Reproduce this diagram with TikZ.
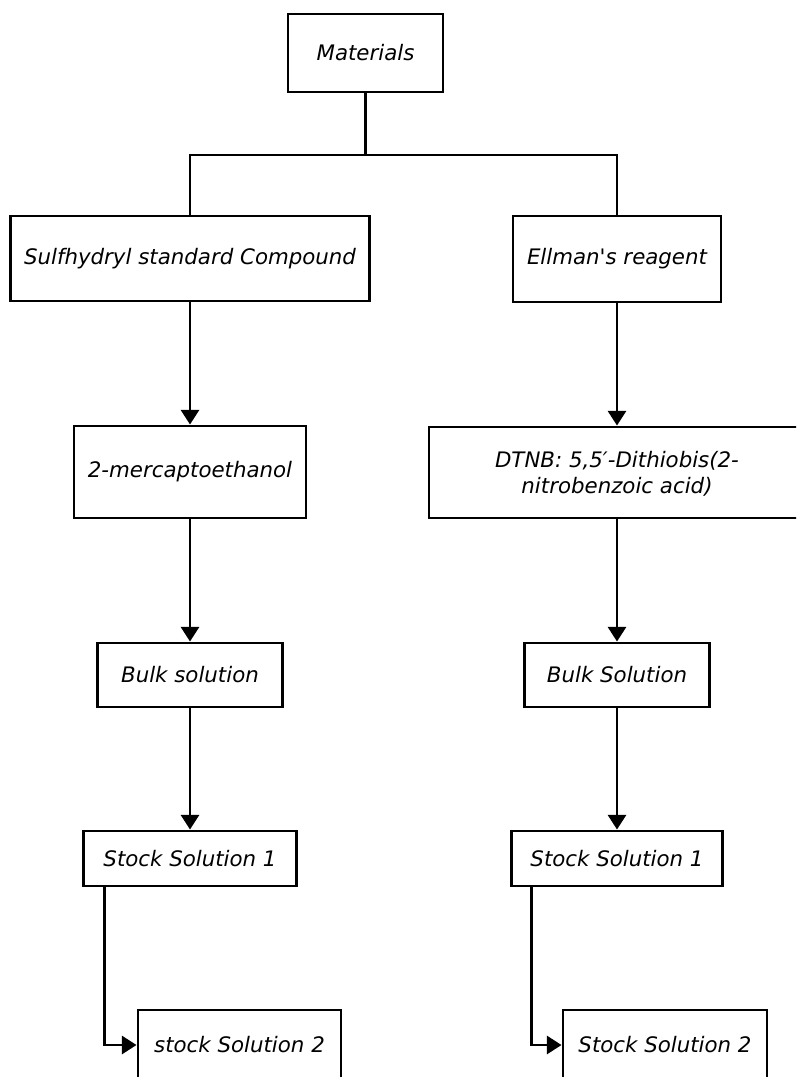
\documentclass[tikz,border=0pt]{standalone}
\usepackage{fontspec}
\newfontfamily\vfont{DejaVu Sans}
\usetikzlibrary{arrows.meta}
\tikzset{
  box/.style={draw, line width=2.2pt, inner sep=0pt, align=center, font=\vfont\fontsize{16pt}{19pt}\selectfont\itshape, fill=white},
  conn/.style={line width=2.2pt},
  arr/.style={line width=2.2pt, -{Triangle[length=11pt,width=13.5pt]}}
}
\begin{document}
\begin{tikzpicture}[x=0.75pt,y=-0.75pt]
\useasboundingbox (0,0) rectangle (796,1077);
\clip (0,0) rectangle (796,1077);
\node[box, minimum width=155*0.75pt, minimum height=78*0.75pt] (mat) at (365.5,53) {Materials};
\node[box, minimum width=359*0.75pt, minimum height=85*0.75pt] (sul) at (190,258.5) {Sulfhydryl standard Compound};
\node[box, minimum width=208*0.75pt, minimum height=86*0.75pt] (ell) at (617,259) {Ellman's reagent};
\node[box, minimum width=232*0.75pt, minimum height=92*0.75pt] (mer) at (190,472) {2-mercaptoethanol};
\node[box, minimum width=376*0.75pt, minimum height=91*0.75pt, text depth=0pt] (dtnb) at (617,472.5) {DTNB: 5,5\char"2032-Dithiobis(2-\\nitrobenzoic acid)};
\node[box, minimum width=185*0.75pt, minimum height=64*0.75pt] (lbulk) at (190,675) {Bulk solution};
\node[box, minimum width=185*0.75pt, minimum height=64*0.75pt] (rbulk) at (617,675) {Bulk Solution};
\node[box, minimum width=213*0.75pt, minimum height=55*0.75pt] (ls1) at (190,858.5) {Stock Solution 1};
\node[box, minimum width=211*0.75pt, minimum height=55*0.75pt] (rs1) at (617,858.5) {Stock Solution 1};
\node[box, minimum width=203*0.75pt, minimum height=70*0.75pt] (ls2) at (239.5,1045) {stock Solution 2};
\node[box, minimum width=204*0.75pt, minimum height=70*0.75pt] (rs2) at (665,1045) {Stock Solution 2};
\coordinate (j) at (365.5,155);
\draw[conn] (mat.south) -- (j);
\draw[conn] (sul.north) |- (j);
\draw[conn] (ell.north) |- (j);
\draw[arr] (sul.south) -- (mer.north);
\draw[arr] (ell.south) -- (dtnb.north);
\draw[arr] (mer.south) -- (lbulk.north);
\draw[arr] (dtnb.south) -- (rbulk.north);
\draw[arr] (lbulk.south) -- (ls1.north);
\draw[arr] (rbulk.south) -- (rs1.north);
\draw[arr] ([xshift=22*0.75pt]ls1.south west) |- (ls2.west);
\draw[arr] ([xshift=21*0.75pt]rs1.south west) |- (rs2.west);
\end{tikzpicture}
\end{document}
